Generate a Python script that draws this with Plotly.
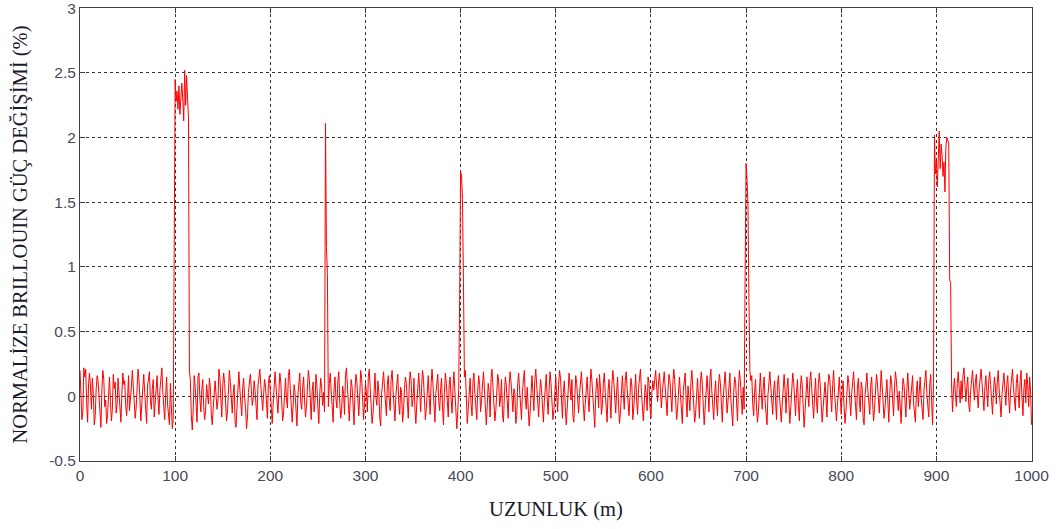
import plotly.graph_objects as go

# Each segment: (start distance in m, values at 1 m steps)
seg_a_start = 0
seg_a = [0.20, 0.05, -0.18, -0.12, 0.22, 0.15, 0.21, -0.05, -0.20, 0.10, 0.18, 0.08, -0.10, 0.14, 0.02, -0.22, -0.15, 0.06, 0.16, 0.12,
         -0.02, -0.18, -0.24, 0.05, 0.20, 0.13, -0.08, -0.03, -0.21, -0.14, 0.09, 0.15, -0.04, -0.19, -0.10, 0.17, 0.06, 0.11, -0.13, -0.06,
         0.14, 0.03, -0.09, -0.20, 0.02, 0.18, 0.09, 0.12, -0.07, -0.15, -0.02, 0.16, -0.11, -0.04, 0.07, 0.20, 0.10, -0.06, -0.17, -0.09,
         0.04, 0.21, 0.13, -0.08, -0.19, -0.05, 0.11, 0.17, 0.03, -0.12, -0.21, 0.08, 0.14, 0.19, -0.03, -0.10, 0.06, 0.13, -0.16, -0.07,
         0.09, 0.16, -0.02, -0.14, 0.05, 0.12, 0.22, 0.04, -0.11, -0.18, 0.00, 0.15, -0.06, -0.16, -0.22, 0.10, -0.12, -0.25, -0.18]
peak1_start = 99
peak1 = [1.03, 2.45, 2.28, 2.36, 2.22, 2.40, 2.18, 2.33, 2.42, 2.30, 2.13, 2.52, 2.25, 2.48, 2.36, 2.15]
seg_b_start = 115
seg_b = [0.20, 0.12, -0.15, -0.26, -0.10, 0.16, 0.08, -0.05, -0.20, 0.15, 0.18, -0.02, -0.12, 0.05, 0.13, -0.08, -0.18, -0.11, 0.09, 0.02,
         -0.06, 0.14, 0.07, -0.14, -0.22, -0.09, 0.04, 0.12, 0.01, -0.10, -0.03, 0.21, 0.15, -0.05, -0.16, 0.08, 0.18, 0.10, -0.07, -0.19,
         -0.12, 0.06, 0.20, 0.11, -0.04, -0.13, 0.02, 0.09, -0.20, -0.24, -0.08, 0.13, 0.19, 0.05, -0.06, -0.15, 0.07, 0.14, -0.01, -0.09,
         -0.25, -0.16, 0.03, 0.11, 0.17, 0.06, -0.07, -0.02, 0.12, 0.04, -0.14, -0.18, 0.08, 0.15, 0.21, 0.09, -0.03, -0.11, 0.02, 0.13,
         0.07, -0.06, -0.17, 0.10, 0.16, 0.04, -0.10, -0.21, -0.06, 0.12, 0.19, 0.08, -0.04, -0.13, 0.03, 0.18, 0.11, -0.08, -0.19, -0.12,
         0.05, 0.14, -0.02, -0.09, 0.16, 0.21, 0.06, -0.11, -0.20, -0.07, 0.09, 0.03, -0.15, -0.23, 0.01, 0.12, 0.18, -0.05, -0.10, 0.07,
         0.15, -0.03, -0.16, -0.08, 0.10, 0.20, 0.13, -0.06, -0.18, 0.04, 0.11, -0.12, -0.04, 0.17, 0.08, -0.09, -0.21, 0.02, 0.14, 0.06,
         -0.07, 0.03, -0.12]
peak2_start = 258
peak2 = [2.11, 1.15, 0.95]
seg_c_start = 261
seg_c = [-0.08, 0.10, 0.18, 0.04, -0.13, -0.20, 0.06, 0.15, -0.02, -0.09, 0.12, 0.19, -0.05, -0.17, -0.10, 0.08, 0.02, -0.14, 0.16, 0.22,
         0.09, -0.07, -0.19, -0.03, 0.13, 0.07, -0.11, -0.22, 0.05, 0.17, 0.11, -0.04, -0.15, 0.01, 0.20, 0.14, -0.08, -0.18, -0.06, 0.10,
         0.03, -0.12, 0.15, 0.21, 0.06, -0.10, -0.21, -0.13, 0.08, 0.18, -0.01, -0.07, 0.12, 0.04, -0.16, -0.23, 0.02, 0.14, 0.19, 0.07,
         -0.05, -0.15, 0.09, 0.16, -0.03, -0.11, 0.13, 0.20, 0.05, -0.09, -0.19, 0.01, 0.11, 0.17, -0.06, -0.14, 0.07, 0.03, -0.20, -0.12,
         0.06, 0.15, 0.10, -0.04, -0.17, 0.08, 0.19, 0.12, -0.08, -0.02, 0.14, -0.10, -0.21, -0.05, 0.11, 0.18, 0.04, -0.12, 0.07, 0.20,
         0.13, -0.06, -0.18, -0.09, 0.05, 0.16, -0.01, -0.14, 0.10, 0.21, 0.08, -0.07, -0.20, 0.02, 0.12, 0.17, -0.04, -0.11, 0.06, 0.14,
         -0.09, -0.22, 0.03, 0.18, 0.10, -0.05, -0.16, 0.09, 0.15, -0.02, -0.13, 0.07, 0.19, 0.04, -0.10, -0.25, -0.12, 0.06]
peak3_start = 399
peak3 = [0.76, 1.74, 1.70, 1.52, 0.88]
seg_d_start = 404
seg_d = [0.15, 0.20, -0.04, -0.21, -0.10, 0.08, 0.14, -0.06, -0.15, 0.11, 0.18, 0.02, -0.09, -0.18, 0.05, 0.16, 0.09, -0.12, -0.03, 0.12,
         0.19, 0.06, -0.13, -0.22, -0.07, 0.10, 0.03, -0.16, 0.14, 0.21, 0.07, -0.05, -0.19, -0.11, 0.04, 0.17, 0.12, -0.08, -0.02, 0.13,
         -0.14, -0.20, 0.01, 0.15, 0.09, -0.06, -0.17, 0.08, 0.19, 0.11, -0.03, -0.12, 0.06, 0.02, -0.21, -0.15, 0.10, 0.18, 0.05, -0.08,
         -0.18, 0.04, 0.14, 0.20, -0.01, -0.10, 0.07, -0.05, -0.23, -0.13, 0.09, 0.16, 0.03, -0.11, 0.12, 0.21, 0.08, -0.07, -0.16, 0.00,
         0.13, 0.06, -0.09, -0.20, -0.04, 0.11, 0.17, -0.02, -0.14, 0.05, 0.19, 0.10, -0.06, -0.18, -0.11, 0.07, 0.15, 0.01, -0.12, 0.09,
         0.20, 0.14, -0.05, -0.17, 0.03, 0.12, -0.08, -0.22, -0.10, 0.06, 0.18, 0.08, -0.03, 0.13, -0.15, -0.20, 0.04, 0.16, 0.10, -0.07,
         -0.13, 0.02, 0.11, 0.19, 0.05, -0.10, -0.19, -0.06, 0.09, 0.15, -0.01, -0.12, 0.07, 0.21, 0.12, -0.04, -0.16, -0.24, 0.01, 0.14,
         0.08, -0.09, 0.17, 0.06, -0.14, -0.07, 0.10, 0.18, 0.03, -0.11, -0.20, 0.05, 0.13, -0.02, -0.17, 0.09, 0.20, 0.11, -0.06, -0.13,
         0.04, 0.15, -0.08, -0.21, -0.12, 0.07, 0.16, 0.02, -0.10, 0.12, 0.19, 0.06, -0.05, -0.15, 0.01, 0.14, 0.08, -0.18, -0.09, 0.11,
         0.17, -0.03, -0.14, 0.06, 0.13, 0.21, 0.04, -0.12, -0.19, -0.06, 0.09, 0.02, -0.11, 0.15, 0.10, -0.07, -0.17, 0.03, 0.12, 0.05,
         0.16, 0.20, 0.08, -0.04, 0.11, 0.18, 0.06, -0.09, 0.03, 0.14, 0.19, 0.07, -0.06, -0.15, 0.05, 0.17, 0.12, -0.02, -0.12, 0.09,
         0.21, 0.13, -0.05, -0.18, -0.10, 0.06, 0.15, 0.02, -0.14, -0.21, 0.04, 0.12, 0.18, -0.03, -0.16, 0.08, 0.01, -0.11, 0.10, 0.20,
         0.07, -0.08, -0.20, -0.13, 0.05, 0.14, -0.02, -0.17, 0.11, 0.19, 0.09, -0.06, -0.22, -0.09, 0.06, 0.16, 0.03, -0.12, 0.13, 0.21,
         0.04, -0.10, -0.18, 0.02, 0.12, -0.05, -0.15, 0.08, 0.17, 0.10, -0.07, -0.20, -0.01, 0.14, 0.19, 0.05, -0.13, -0.04, 0.09, 0.18,
         -0.02, -0.16, -0.23, 0.03, 0.15, 0.11, -0.08, -0.19, 0.06, 0.20, 0.12, -0.06, -0.14, 0.07, -0.10]
peak4_start = 699
peak4 = [0.92, 1.80, 1.68, 1.47, 0.76]
seg_e_start = 704
seg_e = [0.20, 0.12, 0.16, -0.06, -0.15, 0.04, 0.13, -0.09, -0.20, -0.12, 0.08, 0.18, 0.03, -0.10, 0.06, 0.15, -0.04, -0.17, -0.22, 0.01,
         0.11, 0.19, 0.07, -0.08, -0.14, 0.05, 0.12, -0.03, -0.18, 0.09, 0.16, 0.02, -0.11, -0.20, -0.06, 0.10, 0.17, 0.04, -0.13, 0.06,
         0.14, -0.05, -0.21, -0.09, 0.08, 0.18, 0.11, -0.02, -0.15, 0.03, 0.13, -0.07, -0.19, 0.05, 0.16, 0.09, -0.10, -0.24, -0.12, 0.07,
         0.15, 0.02, -0.08, 0.12, 0.19, 0.06, -0.11, -0.17, 0.01, 0.14, -0.04, -0.13, 0.10, 0.18, 0.08, -0.06, -0.20, -0.09, 0.04, 0.11,
         -0.02, -0.16, 0.07, 0.17, 0.13, -0.05, -0.12, 0.09, 0.20, 0.03, -0.10, -0.19, -0.07, 0.06, 0.15, -0.01, -0.14, 0.05, 0.12, -0.08,
         -0.21, -0.11, 0.08, 0.16, 0.10, -0.04, -0.15, 0.02, 0.13, 0.19, 0.05, -0.09, -0.18, 0.06, 0.14, -0.03, -0.12, 0.11, 0.07, -0.16,
         -0.22, 0.00, 0.12, 0.18, 0.04, -0.07, -0.14, 0.09, 0.15, -0.05, -0.19, -0.10, 0.06, 0.17, 0.11, -0.02, -0.13, 0.03, 0.20, 0.08,
         -0.06, -0.17, -0.09, 0.05, 0.13, -0.04, -0.20, 0.02, 0.16, 0.10, -0.08, -0.15, 0.07, 0.19, 0.12, -0.03, -0.11, 0.04, -0.14, -0.21,
         0.01, 0.14, 0.09, -0.07, -0.16, 0.06, 0.18, 0.03, -0.10, -0.02, 0.11, 0.16, -0.05, -0.13, -0.20, 0.04, 0.12, -0.08, 0.07, 0.15,
         -0.01, -0.12, -0.18, 0.05, 0.13, 0.20, 0.02, -0.09, -0.16, 0.08, 0.17, -0.04, -0.22, 0.10]
peak5_start = 898
peak5 = [2.02, 1.72, 1.83, 1.62, 1.90, 2.05, 1.76, 1.95, 1.86, 1.70, 1.81, 1.58, 1.93, 2.00, 1.98, 1.96, 0.90, 0.88]
seg_f_start = 916
seg_f = [0.08, -0.12, 0.05, 0.14, 0.02, -0.08, 0.10, 0.19, 0.06, -0.05, 0.12, -0.02, 0.16, 0.22, 0.09, -0.04, 0.07, 0.15, -0.06, -0.12,
         0.04, 0.13, 0.20, 0.08, -0.03, 0.11, 0.17, 0.02, -0.09, 0.06, 0.14, 0.21, 0.10, -0.05, -0.11, 0.07, 0.16, 0.04, -0.08, 0.12,
         0.19, 0.09, -0.02, -0.14, 0.03, 0.15, 0.08, -0.06, 0.11, 0.20, 0.05, -0.10, -0.16, 0.02, 0.13, 0.18, 0.06, -0.07, 0.09, 0.16,
         -0.01, -0.13, 0.05, 0.14, 0.21, 0.07, -0.04, -0.11, 0.10, 0.17, 0.03, -0.09, 0.12, 0.20, -0.02, -0.15, 0.06, 0.13, -0.05, 0.18,
         0.09, -0.08, 0.15, 0.04, -0.22]

segments = [(seg_a_start, seg_a), (peak1_start, peak1), (seg_b_start, seg_b), (peak2_start, peak2),
            (seg_c_start, seg_c), (peak3_start, peak3), (seg_d_start, seg_d), (peak4_start, peak4),
            (seg_e_start, seg_e), (peak5_start, peak5), (seg_f_start, seg_f)]

distance = []
power_change = []
for start, vals in segments:
    for i, v in enumerate(vals):
        distance.append(start + i)
        power_change.append(v)

x_ticks = [0, 100, 200, 300, 400, 500, 600, 700, 800, 900, 1000]
y_ticks = [-0.5, 0, 0.5, 1, 1.5, 2, 2.5, 3]
y_tick_text = ["-0.5", "0", "0.5", "1", "1.5", "2", "2.5", "3"]

fig = go.Figure()
fig.add_trace(go.Scatter(x=distance, y=power_change, mode="lines",
                         line=dict(color="#ff0000", width=1), showlegend=False))

axis_common = dict(
    showline=True, linecolor="#404040", linewidth=1, mirror="ticks",
    ticks="inside", ticklen=5, tickcolor="#404040",
    showgrid=True, gridcolor="#333333", gridwidth=1, griddash="3px,3px",
    zeroline=False, automargin=False, ticklabeloverflow="allow",
    tickfont=dict(family="Liberation Sans, Arial, sans-serif", size=15.5, color="#4a4a58"),
)

fig.update_layout(
    width=1059, height=529,
    margin=dict(l=80, r=27, t=8, b=68),
    paper_bgcolor="white", plot_bgcolor="white",
    xaxis=dict(range=[0, 1000.5], tickvals=x_ticks, ticktext=[str(t) for t in x_ticks],
               title=dict(text="UZUNLUK (m)", standoff=19,
                          font=dict(family="Liberation Serif, Times New Roman, serif", size=20.5, color="#1a1a2a")),
               **axis_common),
    yaxis=dict(range=[-0.5, 3.002], tickvals=y_ticks, ticktext=y_tick_text,
               title=dict(text="NORMALİZE BRILLOUIN GÜÇ DEĞİŞİMİ (%)", standoff=16,
                          font=dict(family="Liberation Serif, Times New Roman, serif", size=20.5, color="#1a1a2a")),
               **axis_common),
)

fig.write_html("out.html", config={"displayModeBar": False},
               post_script="document.body.style.margin='0';document.body.style.overflow='hidden';")
